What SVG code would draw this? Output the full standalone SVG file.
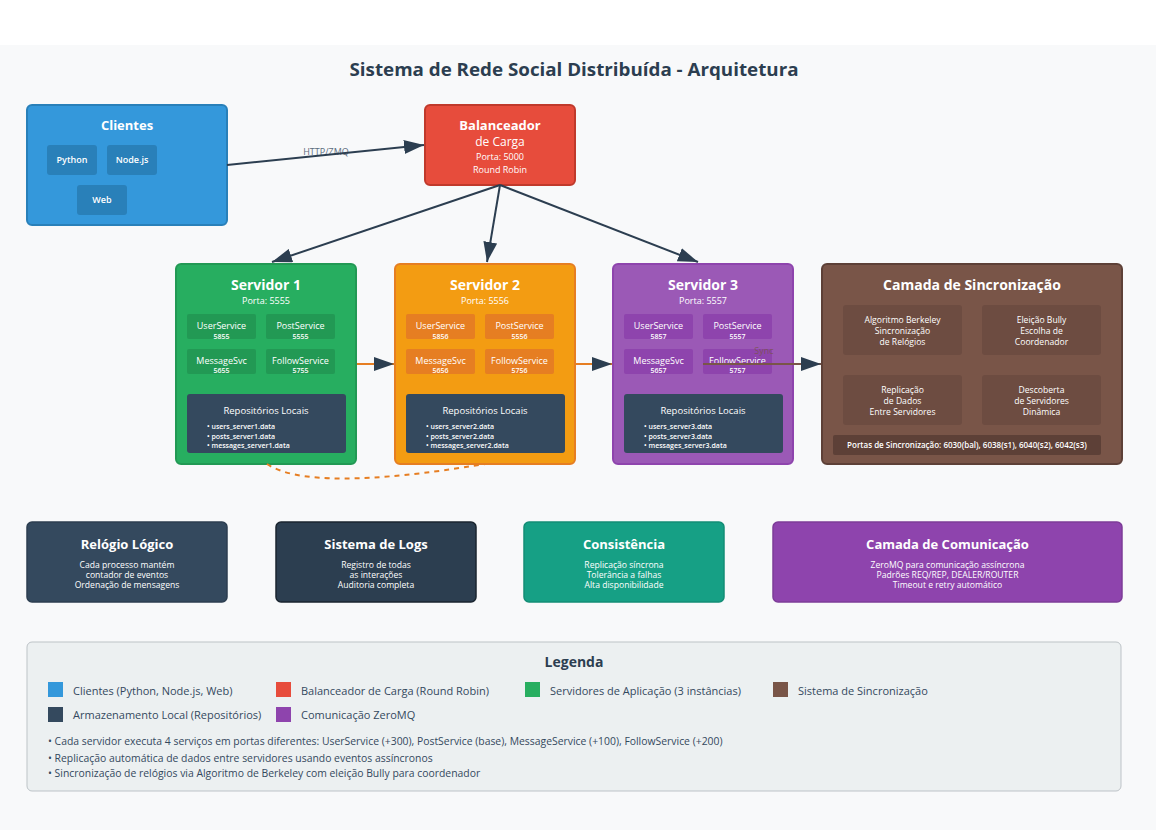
<svg xmlns="http://www.w3.org/2000/svg" width="1156" height="830" viewBox="0 0 1156 830">
  <defs>
    <marker id="arrow" markerWidth="10" markerHeight="7" refX="10" refY="3.5" orient="auto" markerUnits="strokeWidth">
      <polygon points="0 0, 10 3.5, 0 7" fill="#2c3e50"/>
    </marker>
    <style>
      text { font-family: "Segoe UI", "Open Sans", "Noto Sans", sans-serif; }
      .c { text-anchor: middle; fill: #ffffff; }
      .h { font-weight: 700; font-size: 13px; }
      .hs { font-weight: 700; font-size: 14px; }
      .s9 { font-size: 9px; }
      .s8 { font-size: 8.6px; }
      .s7 { font-size: 7px; font-weight: 600; }
      .sub { font-size: 9px; font-weight: 600; }
      .bul { font-size: 7px; fill: #ffffff; font-weight: 600; }
      .link { fill: none; stroke: #2c3e50; stroke-width: 2; }
      .leg { font-size: 11px; fill: #34495e; }
      .note { font-size: 10.4px; fill: #34495e; }
    </style>
  </defs>

  <!-- page -->
  <rect x="0" y="0" width="1156" height="830" fill="#ffffff"/>
  <rect x="0" y="45" width="1156" height="785" fill="#f8f9fa"/>

  <text x="574" y="76" text-anchor="middle" font-size="18" font-weight="700" fill="#2c3e50" textLength="449" lengthAdjust="spacingAndGlyphs">Sistema de Rede Social Distribuída - Arquitetura</text>

  <!-- clients -->
  <g id="clientes">
    <rect x="27" y="105" width="200" height="120" rx="5" fill="#3498db" stroke="#2980b9" stroke-width="2"/>
    <text x="127" y="130" class="c h">Clientes</text>
    <rect x="47" y="145" width="50" height="30" rx="3" fill="#2980b9"/>
    <text x="72" y="163" class="c sub">Python</text>
    <rect x="107" y="145" width="50" height="30" rx="3" fill="#2980b9"/>
    <text x="132" y="163" class="c sub">Node.js</text>
    <rect x="77" y="185" width="50" height="30" rx="3" fill="#2980b9"/>
    <text x="102" y="203" class="c sub">Web</text>
  </g>

  <!-- load balancer -->
  <g id="balanceador">
    <rect x="425" y="105" width="150" height="80" rx="5" fill="#e74c3c" stroke="#c0392b" stroke-width="2"/>
    <text x="500" y="130" class="c h">Balanceador</text>
    <text x="500" y="146" class="c" font-size="12">de Carga</text>
    <text x="500" y="160" class="c s9">Porta: 5000</text>
    <text x="500" y="173" class="c s9">Round Robin</text>
  </g>

  <!-- server 1 -->
  <g id="servidor1">
    <rect x="176" y="264" width="180" height="200" rx="5" fill="#27ae60" stroke="#229954" stroke-width="2"/>
    <text x="266" y="289.5" class="c hs">Servidor 1</text>
    <text x="266" y="304" class="c s9">Porta: 5555</text>
    <rect x="187" y="314" width="69" height="25" rx="2" fill="#229954"/>
    <text x="221.5" y="329" class="c s9">UserService</text>
    <text x="221.5" y="338.5" class="c s7">5855</text>
    <rect x="266" y="314" width="69" height="25" rx="2" fill="#229954"/>
    <text x="300.5" y="329" class="c s9">PostService</text>
    <text x="300.5" y="338.5" class="c s7">5555</text>
    <rect x="187" y="349" width="69" height="25" rx="2" fill="#229954"/>
    <text x="221.5" y="363.5" class="c s9">MessageSvc</text>
    <text x="221.5" y="373" class="c s7">5655</text>
    <rect x="266" y="349" width="69" height="25" rx="2" fill="#229954"/>
    <text x="300.5" y="363.5" class="c s9">FollowService</text>
    <text x="300.5" y="373" class="c s7">5755</text>
    <rect x="187" y="394" width="159" height="59" rx="3" fill="#34495e"/>
    <text x="266" y="414" class="c" font-size="9.5">Repositórios Locais</text>
    <text x="207" y="428.5" class="bul">• users_server1.data</text>
    <text x="207" y="438.5" class="bul">• posts_server1.data</text>
    <text x="207" y="448" class="bul">• messages_server1.data</text>
  </g>

  <!-- server 2 -->
  <g id="servidor2">
    <rect x="395" y="264" width="180" height="200" rx="5" fill="#f39c12" stroke="#e67e22" stroke-width="2"/>
    <text x="485" y="289.5" class="c hs">Servidor 2</text>
    <text x="485" y="304" class="c s9">Porta: 5556</text>
    <rect x="406" y="314" width="69" height="25" rx="2" fill="#e67e22"/>
    <text x="440.5" y="329" class="c s9">UserService</text>
    <text x="440.5" y="338.5" class="c s7">5856</text>
    <rect x="485" y="314" width="69" height="25" rx="2" fill="#e67e22"/>
    <text x="519.5" y="329" class="c s9">PostService</text>
    <text x="519.5" y="338.5" class="c s7">5556</text>
    <rect x="406" y="349" width="69" height="25" rx="2" fill="#e67e22"/>
    <text x="440.5" y="363.5" class="c s9">MessageSvc</text>
    <text x="440.5" y="373" class="c s7">5656</text>
    <rect x="485" y="349" width="69" height="25" rx="2" fill="#e67e22"/>
    <text x="519.5" y="363.5" class="c s9">FollowService</text>
    <text x="519.5" y="373" class="c s7">5756</text>
    <rect x="406" y="394" width="159" height="59" rx="3" fill="#34495e"/>
    <text x="485" y="414" class="c" font-size="9.5">Repositórios Locais</text>
    <text x="426" y="428.5" class="bul">• users_server2.data</text>
    <text x="426" y="438.5" class="bul">• posts_server2.data</text>
    <text x="426" y="448" class="bul">• messages_server2.data</text>
  </g>

  <!-- server 3 -->
  <g id="servidor3">
    <rect x="613" y="264" width="180" height="200" rx="5" fill="#9b59b6" stroke="#8e44ad" stroke-width="2"/>
    <text x="703" y="289.5" class="c hs">Servidor 3</text>
    <text x="703" y="304" class="c s9">Porta: 5557</text>
    <rect x="624" y="314" width="69" height="25" rx="2" fill="#8e44ad"/>
    <text x="658.5" y="329" class="c s9">UserService</text>
    <text x="658.5" y="338.5" class="c s7">5857</text>
    <rect x="703" y="314" width="69" height="25" rx="2" fill="#8e44ad"/>
    <text x="737.5" y="329" class="c s9">PostService</text>
    <text x="737.5" y="338.5" class="c s7">5557</text>
    <rect x="624" y="349" width="69" height="25" rx="2" fill="#8e44ad"/>
    <text x="658.5" y="363.5" class="c s9">MessageSvc</text>
    <text x="658.5" y="373" class="c s7">5657</text>
    <rect x="703" y="349" width="69" height="25" rx="2" fill="#8e44ad"/>
    <text x="737.5" y="363.5" class="c s9">FollowService</text>
    <text x="737.5" y="373" class="c s7">5757</text>
    <rect x="624" y="394" width="159" height="59" rx="3" fill="#34495e"/>
    <text x="703" y="414" class="c" font-size="9.5">Repositórios Locais</text>
    <text x="644" y="428.5" class="bul">• users_server3.data</text>
    <text x="644" y="438.5" class="bul">• posts_server3.data</text>
    <text x="644" y="448" class="bul">• messages_server3.data</text>
  </g>

  <!-- synchronisation layer -->
  <g id="sincronizacao">
    <rect x="822" y="264" width="300" height="200" rx="5" fill="#795548" stroke="#5d4037" stroke-width="2"/>
    <text x="972" y="289.5" class="c hs">Camada de Sincronização</text>
    <rect x="843" y="305" width="119" height="50" rx="3" fill="#6d4c41"/>
    <text x="902.5" y="322.5" class="c s8">Algoritmo Berkeley</text>
    <text x="902.5" y="333.5" class="c s8">Sincronização</text>
    <text x="902.5" y="344.5" class="c s8">de Relógios</text>
    <rect x="982" y="305" width="119" height="50" rx="3" fill="#6d4c41"/>
    <text x="1041.5" y="322.5" class="c s8">Eleição Bully</text>
    <text x="1041.5" y="333.5" class="c s8">Escolha de</text>
    <text x="1041.5" y="344.5" class="c s8">Coordenador</text>
    <rect x="843" y="375" width="119" height="50" rx="3" fill="#6d4c41"/>
    <text x="902.5" y="393" class="c s8">Replicação</text>
    <text x="902.5" y="404" class="c s8">de Dados</text>
    <text x="902.5" y="415" class="c s8">Entre Servidores</text>
    <rect x="982" y="375" width="119" height="50" rx="3" fill="#6d4c41"/>
    <text x="1041.5" y="393" class="c s8">Descoberta</text>
    <text x="1041.5" y="404" class="c s8">de Servidores</text>
    <text x="1041.5" y="415" class="c s8">Dinâmica</text>
    <rect x="833" y="435" width="268" height="20" rx="2" fill="#5d4037"/>
    <text x="967" y="448" class="c" font-size="8" font-weight="600">Portas de Sincronização: 6030(bal), 6038(s1), 6040(s2), 6042(s3)</text>
  </g>

  <!-- lower feature boxes -->
  <g id="relogio">
    <rect x="27" y="522" width="200" height="80" rx="5" fill="#34495e" stroke="#2c3e50" stroke-width="1.5"/>
    <text x="127" y="549" class="c h">Relógio Lógico</text>
    <text x="127" y="568" class="c s8">Cada processo mantém</text>
    <text x="127" y="578" class="c s8">contador de eventos</text>
    <text x="127" y="588" class="c s8">Ordenação de mensagens</text>
  </g>
  <g id="logs">
    <rect x="276" y="522" width="200" height="80" rx="5" fill="#2c3e50" stroke="#1a252f" stroke-width="1.5"/>
    <text x="376" y="549" class="c h">Sistema de Logs</text>
    <text x="376" y="568" class="c s8">Registro de todas</text>
    <text x="376" y="578" class="c s8">as interações</text>
    <text x="376" y="588" class="c s8">Auditoria completa</text>
  </g>
  <g id="consistencia">
    <rect x="524" y="522" width="200" height="80" rx="5" fill="#16a085" stroke="#138d75" stroke-width="1.5"/>
    <text x="624" y="549" class="c h">Consistência</text>
    <text x="624" y="568" class="c s8">Replicação síncrona</text>
    <text x="624" y="578" class="c s8">Tolerância a falhas</text>
    <text x="624" y="588" class="c s8">Alta disponibilidade</text>
  </g>
  <g id="comunicacao">
    <rect x="773" y="522" width="349" height="80" rx="5" fill="#8e44ad" stroke="#7d3c98" stroke-width="1.5"/>
    <text x="947.5" y="549" class="c h">Camada de Comunicação</text>
    <text x="947.5" y="568" class="c s8">ZeroMQ para comunicação assíncrona</text>
    <text x="947.5" y="578" class="c s8">Padrões REQ/REP, DEALER/ROUTER</text>
    <text x="947.5" y="588" class="c s8">Timeout e retry automático</text>
  </g>

  <!-- connectors -->
  <g id="conectores">
    <text x="326" y="155" text-anchor="middle" font-size="9" fill="#5d6d7e">HTTP/ZMQ</text>
    <line x1="227" y1="165" x2="424" y2="145" class="link" marker-end="url(#arrow)"/>
    <line x1="500" y1="185" x2="272" y2="262" class="link" marker-end="url(#arrow)"/>
    <line x1="500" y1="185" x2="487" y2="262" class="link" marker-end="url(#arrow)"/>
    <line x1="500" y1="185" x2="698" y2="262" class="link" marker-end="url(#arrow)"/>
    <line x1="357" y1="364" x2="394" y2="364" stroke="#e67e22" stroke-width="2" marker-end="url(#arrow)"/>
    <line x1="576" y1="364" x2="612" y2="364" stroke="#e67e22" stroke-width="2" marker-end="url(#arrow)"/>
    <line x1="703" y1="364" x2="821" y2="364" stroke="#795548" stroke-width="2" marker-end="url(#arrow)"/>
    <text x="764" y="354" text-anchor="middle" font-size="9" fill="#795548" fill-opacity="0.8">Sync</text>
    <path d="M 267 464 Q 310 493 485 464" fill="none" stroke="#e67e22" stroke-width="2" stroke-dasharray="5,5"/>
  </g>

  <!-- legend -->
  <g id="legenda">
    <rect x="27" y="642" width="1094" height="149" rx="5" fill="#ecf0f1" stroke="#bdc3c7" stroke-width="1"/>
    <text x="574" y="667" text-anchor="middle" font-size="14" font-weight="700" fill="#2c3e50">Legenda</text>
    <rect x="48" y="682" width="15" height="15" fill="#3498db"/>
    <text x="73" y="694.5" class="leg">Clientes (Python, Node.js, Web)</text>
    <rect x="276" y="682" width="15" height="15" fill="#e74c3c"/>
    <text x="301" y="694.5" class="leg">Balanceador de Carga (Round Robin)</text>
    <rect x="525" y="682" width="15" height="15" fill="#27ae60"/>
    <text x="550" y="694.5" class="leg">Servidores de Aplicação (3 instâncias)</text>
    <rect x="773" y="682" width="15" height="15" fill="#795548"/>
    <text x="798" y="694.5" class="leg">Sistema de Sincronização</text>
    <rect x="48" y="707" width="15" height="15" fill="#34495e"/>
    <text x="73" y="719" class="leg">Armazenamento Local (Repositórios)</text>
    <rect x="276" y="707" width="15" height="15" fill="#8e44ad"/>
    <text x="301" y="719" class="leg">Comunicação ZeroMQ</text>
    <text x="48" y="745" class="note">• Cada servidor executa 4 serviços em portas diferentes: UserService (+300), PostService (base), MessageService (+100), FollowService (+200)</text>
    <text x="48" y="761.5" class="note">• Replicação automática de dados entre servidores usando eventos assíncronos</text>
    <text x="48" y="777" class="note">• Sincronização de relógios via Algoritmo de Berkeley com eleição Bully para coordenador</text>
  </g>
</svg>
